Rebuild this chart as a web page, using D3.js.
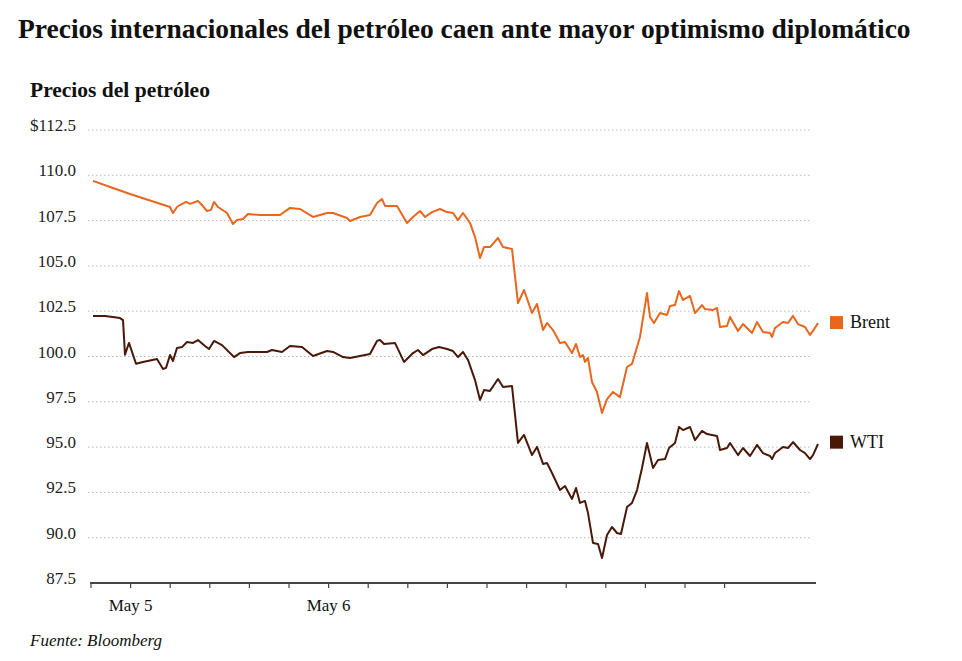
<!DOCTYPE html>
<html><head><meta charset="utf-8">
<script src="https://cdn.jsdelivr.net/npm/d3@7"></script>
<style>body{margin:0;background:#fff}svg text{font-family:"Liberation Serif","Times New Roman",serif}</style>
</head><body><svg id="c" width="962" height="661"></svg>
<script>
const yTicks=[87.5,90,92.5,95,97.5,100,102.5,105,107.5,110,112.5];
const xTickVals=[0,1,2,3,4,5,6,7,8,9,10,11,12,13,14,15,16];
const xTickLabels={1:"May 5",6:"May 6"};
// x in tick units (1 unit ≈ 4.8 trading hours)
const brentX=[93,113,130,170,173,177,180,186,190,198,202,207,211,214,218,227,233,237,243,248,260,280,290,300,313,327,333,347,350,360,370,377,382,385,397,407,413,420,425,432,440,447,453,458,463,470,475,480,484,490,498,503,512,518,524,532,537,543,547,553,560,565,572,576,580,583,585,588,592,597,602,607,613,620,627,632,640,647,650,654,660,667,670,675,679,683,690,695,702,705,713,717,720,727,730,738,743,752,757,763,770,772,775,783,788,793,798,805,810,813,818].map(p=>+((p-90.5)/39.6).toFixed(3));
const brent=[109.69,109.30,108.97,108.25,107.92,108.25,108.36,108.53,108.42,108.58,108.36,108.03,108.09,108.53,108.25,107.92,107.31,107.53,107.59,107.86,107.81,107.81,108.20,108.14,107.70,107.92,107.92,107.64,107.48,107.70,107.81,108.47,108.69,108.31,108.31,107.37,107.70,108.03,107.70,107.97,108.14,107.97,107.92,107.53,107.92,107.37,106.59,105.44,106.04,106.04,106.54,
106.04,105.93,102.95,103.67,102.40,102.90,101.46,101.85,101.46,100.75,100.80,100.19,100.69,99.97,100.08,99.70,99.92,98.59,98.04,96.88,97.65,98.04,97.76,99.42,99.59,101.08,103.50,102.18,101.85,102.40,102.29,102.79,102.84,103.61,103.12,103.34,102.40,102.84,102.62,102.57,102.68,101.63,101.68,102.18,101.41,101.79,101.30,101.90,101.35,101.30,101.08,101.57,101.90,101.85,102.24,101.79,101.63,101.19,101.41,101.85];
const wtiX=[93,100,105,120,123,125,129,136,143,157,163,166,170,173,177,182,187,193,198,205,209,214,222,234,240,248,267,272,282,290,302,313,327,333,343,350,360,370,377,380,384,395,404,413,418,423,432,439,447,453,458,463,468,475,480,484,490,498,503,512,518,524,532,537,543,547,552,560,565,572,576,580,585,588,593,598,602,607,612,617,621,627,632,637,642,647,653,658,665,669,675,679,683,690,695,702,707,717,720,727,730,738,743,750,757,763,770,772,775,783,788,793,800,805,810,813,818].map(p=>+((p-90.5)/39.6).toFixed(3));
const wti=[102.24,102.24,102.24,102.12,102.01,100.1,100.75,99.6,99.70,99.86,99.31,99.37,100.08,99.75,100.47,100.52,100.80,100.75,100.91,100.58,100.41,100.86,100.63,99.97,100.19,100.25,100.25,100.36,100.25,100.58,100.52,100.03,100.30,100.25,99.97,99.92,100.03,100.14,100.86,100.91,100.69,100.75,99.70,100.19,100.36,100.08,100.41,100.52,100.41,100.30,99.97,100.25,99.81,98.70,97.60,98.15,98.10,98.76,98.32,98.37,95.23,95.67,94.56,95.01,94.07,94.12,93.57,92.63,92.85,92.14,92.74,91.92,92.03,91.36,89.71,89.65,88.88,90.15,90.59,90.26,90.20,91.69,91.92,92.63,93.85,95.23,93.85,94.29,94.34,94.95,95.23,96.11,95.94,96.11,95.39,95.89,95.72,95.61,94.84,94.95,95.23,94.56,94.95,94.51,95.12,94.67,94.51,94.34,94.67,95.01,94.95,95.28,94.84,94.67,94.34,94.56,95.17];
const series=[{name:"Brent",x:brentX,v:brent,color:"#e8661e"},{name:"WTI",x:wtiX,v:wti,color:"#4a1808"}];

const svg=d3.select("#c");
const x=d3.scaleLinear().domain([0,18.27]).range([90.5,814]);
const y=d3.scaleLinear().domain([87.5,112.5]).range([583,130]);

svg.append("text").attr("x",18).attr("y",38).attr("font-size",27.5).attr("font-weight","bold").attr("fill","#111")
 .text("Precios internacionales del petróleo caen ante mayor optimismo diplomático");
svg.append("text").attr("x",30).attr("y",97).attr("font-size",21.5).attr("font-weight","bold").attr("fill","#111").text("Precios del petróleo");

const g=svg.append("g");
g.selectAll("line.grid").data(yTicks.slice(1)).join("line").attr("class","grid")
 .attr("x1",88).attr("x2",812).attr("y1",d=>y(d)).attr("y2",d=>y(d))
 .attr("stroke","#bbb").attr("stroke-width",1).attr("stroke-dasharray","1.5,2.5");
g.selectAll("text.yl").data(yTicks).join("text").attr("class","yl")
 .attr("x",76).attr("y",d=>y(d)+1).attr("text-anchor","end").attr("font-size",17).attr("fill","#222")
 .text(d=>(d===112.5?"$":"")+d.toFixed(1));

const ax=svg.append("g").attr("transform",`translate(0,${y(87.5)})`)
 .call(d3.axisBottom(x).tickValues(xTickVals).tickSize(5).tickFormat(d=>xTickLabels[d]||""));
ax.select(".domain").attr("d",`M90,0H816`).attr("stroke","#444").attr("stroke-width",2);
ax.selectAll(".tick line").attr("stroke","#444").attr("stroke-width",1.2);
ax.selectAll(".tick text").attr("font-family","Liberation Serif").attr("font-size",17).attr("fill","#111").attr("dy","1.2em");

const line=d3.line().x(d=>x(d[0])).y(d=>y(d[1]));
series.forEach(s=>{
 svg.append("path").datum(s.x.map((xx,i)=>[xx,s.v[i]])).attr("d",line)
  .attr("fill","none").attr("stroke",s.color).attr("stroke-width",2).attr("stroke-linejoin","round");
});
const leg=[{name:"Brent",color:"#e8661e",v:101.9},{name:"WTI",color:"#4a1808",v:95.3}];
leg.forEach(l=>{
 svg.append("rect").attr("x",830).attr("y",y(l.v)-6).attr("width",13).attr("height",13).attr("fill",l.color);
 svg.append("text").attr("x",850).attr("y",y(l.v)+6).attr("font-size",18).attr("fill","#111").text(l.name);
});
svg.append("text").attr("x",30).attr("y",646).attr("font-size",17).attr("font-style","italic").attr("fill","#111").text("Fuente: Bloomberg");
</script></body></html>
